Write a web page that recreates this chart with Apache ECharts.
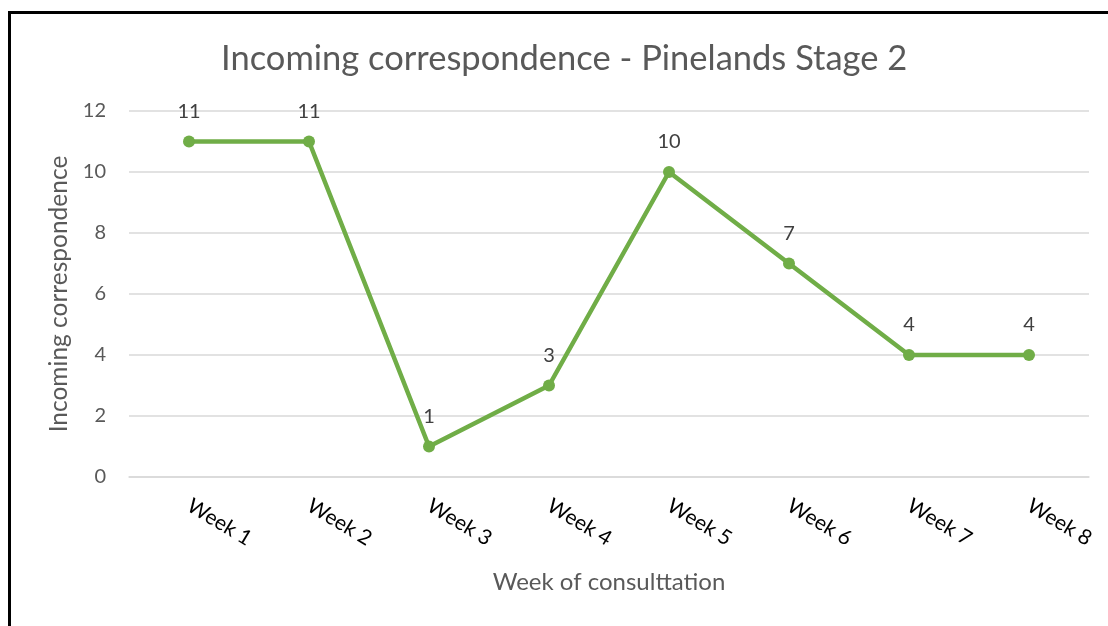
<!DOCTYPE html>
<html>
<head>
<meta charset="utf-8">
<script src="https://cdn.jsdelivr.net/npm/echarts@6/dist/echarts.min.js"></script>
<style>
html,body{margin:0;padding:0;background:#fff;overflow:hidden;}
#frame{position:absolute;left:8px;top:11px;width:1200px;height:700px;border-left:3px solid #000;border-top:3px solid #000;box-sizing:border-box;}
#chart{position:absolute;left:0;top:0;width:1108px;height:626px;}
</style>
</head>
<body>
<div id="frame"></div>
<div id="chart"></div>
<script>
const titleText = 'Incoming correspondence - Pinelands Stage 2';
const categories = ['Week 1','Week 2','Week 3','Week 4','Week 5','Week 6','Week 7','Week 8'];
const values = [11, 11, 1, 3, 10, 7, 4, 4];
const yTicks = {min: 0, max: 12, interval: 2};
const xName = 'Week of consulttation';
const yName = 'Incoming correspondence';

const font = 'Lato, "Open Sans", sans-serif';
const chart = echarts.init(document.getElementById('chart'), null, {renderer: 'canvas'});
chart.setOption({
  animation: false,
  backgroundColor: 'transparent',
  title: {
    text: titleText, left: 216, top: 36,
    textStyle: {color: '#595959', fontSize: 34.5, fontWeight: 'normal', fontFamily: font}
  },
  grid: {left: 129, right: 19, top: 111, bottom: 149, containLabel: false},
  xAxis: {
    type: 'category', data: categories, boundaryGap: true,
    name: xName, nameLocation: 'middle', nameGap: 93,
    nameTextStyle: {color: '#595959', fontSize: 24, fontFamily: font},
    axisLine: {show: true, lineStyle: {color: '#d9d9d9', width: 1.5}},
    axisTick: {show: false},
    axisLabel: {rotate: -31, color: '#000', fontSize: 21, fontFamily: font, margin: 27, interval: 0}
  },
  yAxis: {
    type: 'value', min: yTicks.min, max: yTicks.max, interval: yTicks.interval,
    name: yName, nameLocation: 'middle', nameGap: 55,
    nameTextStyle: {color: '#595959', fontSize: 24.5, fontFamily: font},
    axisLine: {show: false}, axisTick: {show: false},
    axisLabel: {color: '#595959', fontSize: 20, fontFamily: font, margin: 23},
    splitLine: {lineStyle: {color: '#d9d9d9', width: 1.5}}
  },
  series: [{
    type: 'line', data: values,
    lineStyle: {color: '#70ad47', width: 4.5},
    itemStyle: {color: '#70ad47'},
    symbol: 'circle', symbolSize: 12,
    label: {show: true, position: 'top', distance: 14, color: '#404040', fontSize: 20, fontFamily: font}
  }]
});
</script>
</body>
</html>
